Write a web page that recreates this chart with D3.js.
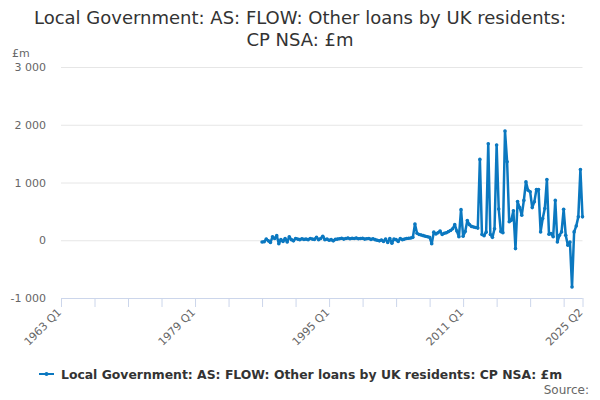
<!DOCTYPE html>
<html>
<head>
<meta charset="utf-8">
<script src="https://cdn.jsdelivr.net/npm/d3@7"></script>
<style>
  body { margin: 0; background: #fff; }
  svg { font-family: "DejaVu Sans", Verdana, sans-serif; }
</style>
</head>
<body>
<div id="chart"></div>
<script>
// quarterly categories, 1963 Q1 .. 2025 Q2
var quarters = [];
for (var yr = 1963; yr <= 2025; yr++) {
    for (var q = 1; q <= 4; q++) {
        if (yr == 2025 && q > 2) break;
        quarters.push(yr + ' Q' + q);
    }
}

var seriesStart = '1987 Q1';
// £m, one value per quarter from 1987 Q1
var seriesValues = [
    -30, -25, 20, -10, -40, 60, 30, 80, -60, 10, -20, 30, -30, 60, 10, -10,
    30, 20, 10, 25, 15, 20, 10, 30, 20, 15, 50, 10, 30, 70, 10, 20,
    0, 10, -10, 15, 20, 25, 35, 20, 30, 40, 25, 35, 30, 40, 25, 30,
    35, 20, 25, 30, 15, 25, 10, 0, -10, 5, -20, 20, -40, 30, -50, 20,
    10, -20, 30, 10, 20, 30, 35, 40, 50, 280, 120, 100, 90, 80, 70, 60,
    50, -60, 140, 110, 130, 160, 100, 120, 130, 150, 170, 200, 270, 160, 60, 530,
    70, 150, 340, 270, 240, 230, 220, 210, 1400, 100, 80, 140, 1670, 100, 50, 200,
    1650, 540, 150, 130, 1890, 1360, 320, 345, 510, -145, 670, 565, 435, 690, 1010, 865,
    840, 565, 665, 880, 880, 145, 375, 550, 1050, 105, 115, 60, 690, -30, 85, 145,
    535, 85, -85, -30, -810, 145, 245, 405, 1225, 405
];

var yTicks = [-1000, 0, 1000, 2000, 3000];
var xTickLabels = ['1963 Q1', '1979 Q1', '1995 Q1', '2011 Q1', '2025 Q2'];
var xMinorTicks = quarters.filter(function(d, i) { return i % 16 == 0; }).concat(['2025 Q2']);

var titleLines = ['Local Government: AS: FLOW: Other loans by UK residents:', 'CP NSA: £m'];
var seriesName = 'Local Government: AS: FLOW: Other loans by UK residents: CP NSA: £m';

var lineColor = '#0b78c0';

var width = 600, height = 400;
var svg = d3.select('#chart').append('svg')
    .attr('width', width)
    .attr('height', height);

var x = d3.scalePoint().domain(quarters).range([61, 582.5]);
var y = d3.scaleLinear().domain([-1000, 3000]).range([298, 67]);

var startIdx = quarters.indexOf(seriesStart);
var data = seriesValues.map(function(v, i) {
    return { q: quarters[startIdx + i], v: v };
});

// title
svg.append('g').selectAll('text')
    .data(titleLines)
    .enter().append('text')
    .attr('x', 300)
    .attr('y', function(d, i) { return 24 + i * 22; })
    .attr('text-anchor', 'middle')
    .style('font-size', '18px')
    .style('fill', '#333')
    .text(function(d) { return d; });

svg.append('text')
    .attr('x', 12).attr('y', 57)
    .style('font-size', '11px')
    .style('fill', '#666')
    .text('£m');

// grid + y labels
var yAxis = svg.append('g')
    .attr('transform', 'translate(61,0)')
    .call(d3.axisLeft(y).tickValues(yTicks)
        .tickSize(-521.5)
        .tickPadding(15)
        .tickFormat(function(d) { return d3.format(',')(d).replace(/,/g, ' ').replace('−', '-'); }));
yAxis.select('.domain').remove();
yAxis.selectAll('.tick line').attr('stroke', '#e6e6e6');
yAxis.selectAll('.tick text')
    .style('font-size', '11px')
    .style('fill', '#666')
    .style('font-family', '"DejaVu Sans", Verdana, sans-serif');

// x axis
var xAxis = svg.append('g')
    .attr('transform', 'translate(0,298)')
    .call(d3.axisBottom(x).tickValues(xMinorTicks).tickSize(9).tickFormat(''));
xAxis.select('.domain').attr('stroke', '#ccd6eb').attr('d', 'M61,0.5H582.5');
xAxis.selectAll('.tick line').attr('stroke', '#ccd6eb');

svg.append('g').selectAll('text')
    .data(xTickLabels)
    .enter().append('text')
    .attr('transform', function(d) { return 'translate(' + (x(d) + 1) + ',313) rotate(-45)'; })
    .attr('text-anchor', 'end')
    .style('font-size', '11px')
    .style('fill', '#666')
    .text(function(d) { return d; });

// series
var line = d3.line()
    .x(function(d) { return x(d.q); })
    .y(function(d) { return y(d.v); });

svg.append('path')
    .datum(data)
    .attr('fill', 'none')
    .attr('stroke', lineColor)
    .attr('stroke-width', 2.5)
    .attr('stroke-linejoin', 'round')
    .attr('d', line);

svg.append('g').selectAll('circle')
    .data(data)
    .enter().append('circle')
    .attr('cx', function(d) { return x(d.q); })
    .attr('cy', function(d) { return y(d.v); })
    .attr('r', 1.8)
    .attr('fill', lineColor);

// legend
var legend = svg.append('g').attr('transform', 'translate(39,374)');
legend.append('line')
    .attr('x1', 0).attr('x2', 15)
    .attr('stroke', lineColor).attr('stroke-width', 2);
legend.append('circle').attr('cx', 7.5).attr('r', 2).attr('fill', lineColor);
legend.append('text')
    .attr('x', 22).attr('y', 4.5)
    .style('font-size', '12.4px')
    .style('font-weight', 'bold')
    .style('fill', '#333')
    .text(seriesName);

svg.append('text')
    .attr('x', 589).attr('y', 394)
    .attr('text-anchor', 'end')
    .style('font-size', '12px')
    .style('fill', '#666')
    .text('Source:');
</script>
</body>
</html>
